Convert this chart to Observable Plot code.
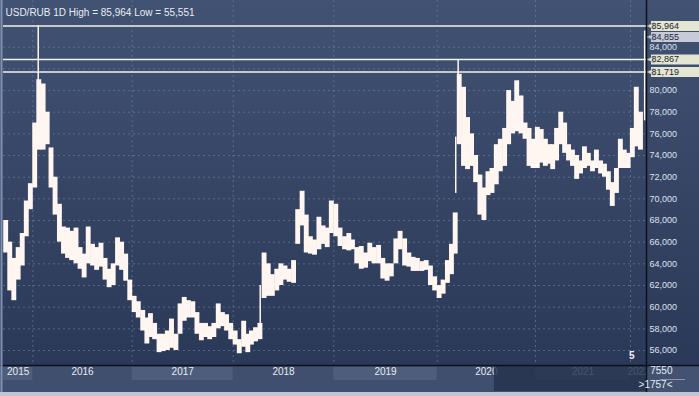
<!DOCTYPE html>
<html><head><meta charset="utf-8">
<script src="https://cdn.jsdelivr.net/npm/d3@7"></script>
<script src="https://cdn.jsdelivr.net/npm/@observablehq/plot@0.6"></script>
<style>html,body{margin:0;padding:0;background:#2f3d5c;overflow:hidden}#chart svg{display:block}</style>
</head><body><div id="chart"></div><script>
const title = "USD/RUB 1D High = 85,964 Low = 55,551";

// semi-monthly periods (mid-period dates)
const dates = [
"2015-09-23","2015-10-08","2015-10-23","2015-11-08","2015-11-23","2015-12-08","2015-12-23",
"2016-01-08","2016-01-23","2016-02-08","2016-02-23","2016-03-08","2016-03-23","2016-04-08","2016-04-23","2016-05-08","2016-05-23","2016-06-08","2016-06-23","2016-07-08","2016-07-23","2016-08-08","2016-08-23","2016-09-08","2016-09-23","2016-10-08","2016-10-23","2016-11-08","2016-11-23","2016-12-08","2016-12-23",
"2017-01-08","2017-01-23","2017-02-08","2017-02-23","2017-03-08","2017-03-23","2017-04-08","2017-04-23","2017-05-08","2017-05-23","2017-06-08","2017-06-23","2017-07-08","2017-07-23","2017-08-08","2017-08-23","2017-09-08","2017-09-23","2017-10-08","2017-10-23","2017-11-08","2017-11-23","2017-12-08","2017-12-23",
"2018-01-08","2018-01-23","2018-02-08","2018-02-23","2018-03-08","2018-03-23","2018-04-08","2018-04-23","2018-05-08","2018-05-23","2018-06-08","2018-06-23","2018-07-08","2018-07-23","2018-08-08","2018-08-23","2018-09-08","2018-09-23","2018-10-08","2018-10-23","2018-11-08","2018-11-23","2018-12-08","2018-12-23",
"2019-01-08","2019-01-23","2019-02-08","2019-02-23","2019-03-08","2019-03-23","2019-04-08","2019-04-23","2019-05-08","2019-05-23","2019-06-08","2019-06-23","2019-07-08","2019-07-23","2019-08-08","2019-08-23","2019-09-08","2019-09-23","2019-10-08","2019-10-23","2019-11-08","2019-11-23","2019-12-08","2019-12-23",
"2020-01-08","2020-01-23","2020-02-08","2020-02-23","2020-03-08","2020-03-23","2020-04-08","2020-04-23","2020-05-08","2020-05-23","2020-06-08","2020-06-23","2020-07-08","2020-07-23","2020-08-08","2020-08-23","2020-09-08","2020-09-23","2020-10-08","2020-10-23","2020-11-08","2020-11-23","2020-12-08","2020-12-23",
"2021-01-08","2021-01-23","2021-02-08","2021-02-23","2021-03-08","2021-03-23","2021-04-08","2021-04-23","2021-05-08","2021-05-23","2021-06-08","2021-06-23","2021-07-08","2021-07-23","2021-08-08","2021-08-23","2021-09-08","2021-09-23","2021-10-08","2021-10-23","2021-11-08","2021-11-23","2021-12-08","2021-12-23",
"2022-01-08","2022-01-23","2022-02-08"
];
const high = [
68.0,66.0,64.5,65.5,66.8,69.8,71.4,
77.0,81.0,80.6,78.0,74.7,72.0,69.5,67.4,67.3,67.0,67.3,65.5,64.9,67.4,65.8,65.5,65.9,64.5,63.5,64.0,66.4,66.0,64.9,62.5,
61.0,60.5,59.7,59.0,59.4,58.5,57.5,57.5,57.8,58.9,57.5,60.3,60.9,60.6,60.5,59.5,58.5,58.5,58.2,58.5,60.3,59.5,59.3,58.5,
57.8,57.0,58.7,57.5,57.8,58.1,58.5,65.0,64.0,63.0,63.5,64.0,63.8,63.5,64.3,69.0,70.7,68.5,66.5,66.2,68.3,67.5,67.3,69.8,
69.5,67.3,66.5,66.8,66.2,65.5,65.6,65.0,65.9,65.5,65.7,64.5,64.0,64.0,66.3,67.0,66.3,65.0,64.6,64.5,64.2,64.3,63.8,62.8,
62.0,62.5,64.3,65.8,68.7,81.5,80.3,77.5,76.0,74.0,72.2,71.0,72.5,72.8,75.0,75.5,76.5,80.0,79.0,80.9,79.5,77.0,76.5,75.5,
76.6,76.4,75.5,75.0,75.0,76.5,78.0,77.0,75.0,74.5,74.0,73.5,74.8,74.2,73.5,74.5,73.5,73.2,72.5,71.5,72.8,75.5,74.5,74.2,
76.5,80.3,78.0
];
const low = [
65.0,61.5,60.6,62.5,63.8,66.5,69.0,
71.0,74.5,74.5,75.0,71.0,68.5,66.0,64.9,64.5,64.3,64.0,63.5,62.7,64.0,63.8,63.4,63.7,62.5,61.8,62.0,63.8,63.4,62.4,60.6,
59.5,59.0,57.8,56.6,57.2,57.0,55.8,55.9,56.0,56.2,56.0,57.5,58.7,59.0,59.0,57.5,56.9,57.2,57.0,57.2,58.0,58.2,57.8,57.0,
56.5,55.7,56.3,55.8,56.5,56.8,57.0,60.8,61.0,61.0,61.5,62.0,62.5,62.3,62.2,65.8,67.5,65.0,64.9,64.8,65.3,65.8,65.5,66.8,
66.5,65.6,65.3,65.2,65.3,64.0,63.5,63.6,64.2,64.0,64.0,62.6,62.4,62.8,64.0,65.3,63.8,63.7,63.3,63.3,63.3,63.4,62.0,61.5,
60.8,61.2,62.2,63.0,64.9,75.0,73.0,72.7,73.0,71.5,68.5,68.0,70.3,70.5,71.3,72.5,73.0,75.0,76.0,76.2,76.0,75.5,73.0,72.8,
72.8,73.3,73.0,73.2,72.7,73.5,75.0,74.2,73.5,73.0,71.8,72.3,72.8,73.0,72.5,72.8,72.3,72.0,70.8,69.3,70.5,72.8,72.8,72.8,
73.8,74.8,74.5
];
// single-day spikes (thin wicks)
const spikeDates = ["2016-01-21","2018-04-09","2020-03-10","2020-03-19","2022-02-24"];
const spikeLow  = [80.5, 57.3, 70.5, 80.0, 77.2];
const spikeHigh = [85.964, 62.0, 75.7, 82.867, 85.5];

// price level markers on the right
const levelValues = [85.964, 84.855, 82.867, 81.719];
const levelIsLast = [false, true, false, false];

const gridTicks = [56,58,60,62,64,66,68,70,72,74,76,78,80,82,84];
const yTicks = [56,58,60,62,64,66,68,70,72,74,76,78,80,84]; // 82,000 label is hidden behind the level boxes
const yearLabels = ["2015","2016","2017","2018","2019","2020","2021","2022"];
const yearStarts = ["2015-09-15","2016-01-01","2017-01-01","2018-01-01","2019-01-01","2020-01-01","2021-01-01","2022-01-01"];
const domainEnd = "2022-03-03";
const scrollStart = "2020-08-01";
const markerText = "5", volumeText = "7550", barsText = ">1757<";

const parse = d3.utcParse("%Y-%m-%d");
const fmt = v => d3.format(",")(Math.round(v * 1000));
const bars = dates.map((d, i) => ({date: parse(d), high: high[i], low: low[i]}));
const spikes = spikeDates.map((d, i) => ({date: parse(d), high: spikeHigh[i], low: spikeLow[i]}));
const levels = levelValues.map((v, i) => ({value: v, last: levelIsLast[i]}));
const yStarts = yearStarts.map(parse);
const yEnds = [...yStarts.slice(1), parse(domainEnd)];
const years = yearLabels.map((t, i) => ({text: t, start: yStarts[i], end: yEnds[i], mid: new Date((+yStarts[i] + +yEnds[i]) / 2), light: i % 2 === 0}));
const yMin = 54.615, yMax = 88.312;

const arrowLeft = {draw(ctx, size) { const r = Math.sqrt(size / Math.PI); ctx.moveTo(-r, 0); ctx.lineTo(r, -r); ctx.lineTo(r, r); ctx.closePath(); }};

const chart = Plot.plot({
  width: 699, height: 396,
  marginLeft: 3, marginRight: 53, marginTop: 0, marginBottom: 31,
  style: {background: "linear-gradient(to bottom, #425272 0%, #2b3958 92%)", color: "#dde3ee",
          fontFamily: "'Liberation Sans', Arial, sans-serif", fontSize: "9px"},
  x: {type: "utc", domain: [...yStarts, parse(domainEnd)], range: [3, 32.3, 131.7, 232.7, 333.3, 436.7, 535, 630, 646], axis: null},
  y: {domain: [yMin, yMax], axis: "right", ticks: yTicks, tickSize: 0, tickPadding: 3, tickFormat: fmt},
  marks: [
    // bottom axis panel
    Plot.rect([0], {insetTop: 365, insetBottom: -27, insetLeft: -3, insetRight: -53, fill: "#3f4f6d"}),
    Plot.rect(years.filter(d => d.light), {x1: "start", x2: "end", insetTop: 367, insetBottom: -15, fill: "#4d5d7b"}),
    Plot.text(years, {x: "mid", text: "text", frameAnchor: "bottom", dy: 9, fill: "#e6ebf3", fontSize: 10}),
    Plot.rect([0], {x1: () => parse(scrollStart), x2: () => parse(domainEnd), insetTop: 365, insetBottom: -26, fill: "#25324d", fillOpacity: 0.82}),
    Plot.rect([0], {insetTop: 365, insetBottom: -27, insetLeft: 643, insetRight: -53, fill: "#425270"}),
    Plot.rect([0], {insetTop: 392, insetBottom: -31, insetLeft: -3, insetRight: -53, fill: "#bcc6d4"}),
    // grid
    Plot.ruleY(gridTicks, {stroke: "#7284a6", strokeOpacity: 0.6, strokeDasharray: "2,3"}),
    Plot.ruleX(yStarts.slice(1), {stroke: "#7284a6", strokeOpacity: 0.6, strokeDasharray: "2,3"}),
    // level lines
    Plot.ruleY(levels.filter(d => !d.last), {y: "value", stroke: "#f2f2ee", strokeWidth: 1.5}),
    // price bars
    Plot.ruleX(bars, {x: "date", y1: "low", y2: "high", stroke: "#fff6f1", strokeWidth: 4.9}),
    Plot.ruleX(spikes, {x: "date", y1: "low", y2: "high", stroke: "#fff6f1", strokeWidth: 1.5}),
    // separators
    Plot.ruleX([parse(domainEnd)], {stroke: "#0e1119", strokeWidth: 1.5, insetBottom: -27}),
    Plot.ruleY([yMin], {stroke: "#0e1119", strokeWidth: 1.5, insetLeft: -3, insetRight: -53}),
    Plot.ruleX([yStarts[0]], {dx: -2, stroke: "#8191b3", strokeWidth: 2, insetBottom: -27}),
    // level boxes
    Plot.ruleY(levels.filter(d => !d.last), {y: "value", stroke: "#e4e6d1", strokeWidth: 10, insetLeft: 648, insetRight: -53}),
    Plot.ruleY(levels.filter(d => d.last), {y: "value", dy: -1, stroke: "#c6cad9", strokeWidth: 10, insetLeft: 648, insetRight: -53}),
    Plot.dot(levels.filter(d => !d.last), {y: "value", frameAnchor: "right", dx: 4, r: 3.5, symbol: arrowLeft, fill: "#e4e6d1", stroke: "#8a90a0", strokeWidth: 0.6}),
    Plot.dot(levels.filter(d => d.last), {y: "value", dy: -1, frameAnchor: "right", dx: 4, r: 3.5, symbol: arrowLeft, fill: "#c6cad9", stroke: "#8a90a0", strokeWidth: 0.6}),
    Plot.text(levels.filter(d => !d.last), {y: "value", text: d => fmt(d.value), frameAnchor: "right", textAnchor: "start", dx: 5, fill: "#1f2534"}),
    Plot.text(levels.filter(d => d.last), {y: "value", dy: -1, text: d => fmt(d.value), frameAnchor: "right", textAnchor: "start", dx: 5, fill: "#1f2534"}),
    // texts
    Plot.text([title], {frameAnchor: "top-left", dx: 2, dy: 8, textAnchor: "start", fill: "#e8ecf4", fontSize: 10}),
    Plot.text([markerText], {frameAnchor: "bottom-right", dx: -12, dy: -7, fill: "#f0f2f6", fontWeight: "bold", fontSize: 10}),
    Plot.text([volumeText], {frameAnchor: "bottom-right", dx: 26, dy: 8, fill: "#e8ecf4", fontSize: 10}),
    Plot.ruleY([yMin], {dy: 14, stroke: "#8797b3", insetLeft: 657, insetRight: -39}),
    Plot.text([barsText], {frameAnchor: "bottom-right", dx: 26, dy: 22, fill: "#e8ecf4", fontSize: 10})
  ]
});
document.getElementById("chart").append(chart);
</script></body></html>
